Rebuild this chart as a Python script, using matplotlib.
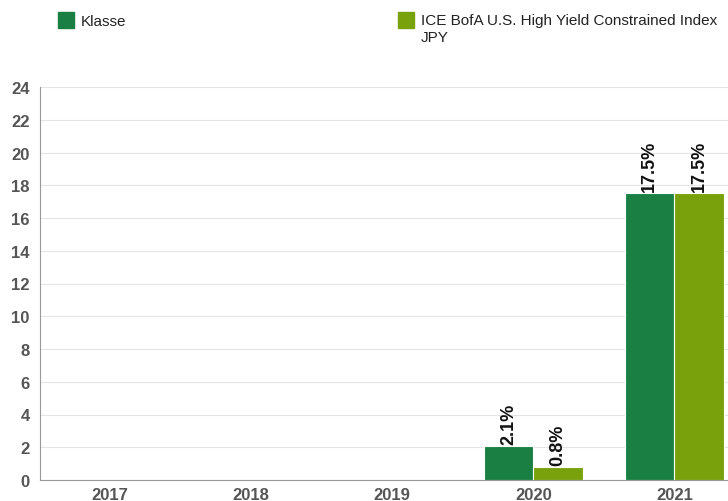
import matplotlib.pyplot as plt
import numpy as np

plt.rcParams['font.family'] = ['Liberation Sans', 'DejaVu Sans']

years = ['2017', '2018', '2019', '2020', '2021']
klasse = [np.nan, np.nan, np.nan, 2.1, 17.5]
index_vals = [np.nan, np.nan, np.nan, 0.8, 17.5]
series_names = ['Klasse', 'ICE BofA U.S. High Yield Constrained Index\nJPY']
colors = ['#1a7f42', '#79a10c']
y_ticks = list(range(0, 25, 2))

fig = plt.figure(figsize=(7.28, 5.02), dpi=100)
ax = fig.add_axes([39.5 / 728, 21 / 502, 705.5 / 728, 393 / 502])

x = np.arange(len(years))
w = 0.35
for vals, col, off in [(klasse, colors[0], -w / 2), (index_vals, colors[1], w / 2)]:
    bars = ax.bar(x + off, vals, width=w, color=col, edgecolor='white', linewidth=0.8, zorder=3)
    for b, v in zip(bars, vals):
        if np.isnan(v):
            continue
        ax.text(b.get_x() + b.get_width() / 2, v + 0.12, f'{v:.1f}%', rotation=90,
                ha='center', va='bottom', fontsize=13, fontweight='bold', color='#111111')

ax.set_xlim(-0.5, len(years) - 0.5)
ax.set_ylim(0, 24)
ax.set_yticks(y_ticks)
ax.set_xticks(x)
ax.set_xticklabels(years)
ax.grid(axis='y', color='#e4e4e4', linewidth=0.8, zorder=0)
ax.tick_params(axis='both', length=0, labelsize=12, labelcolor='#555555')
ax.tick_params(axis='x', pad=5)
ax.tick_params(axis='y', pad=7)
for lab in ax.get_xticklabels() + ax.get_yticklabels():
    lab.set_fontweight('bold')
for s in ['top', 'right']:
    ax.spines[s].set_visible(False)
ax.spines['left'].set_color('#999999')
ax.spines['bottom'].set_color('#999999')

# legend on top
fig.patches.append(plt.Rectangle((58 / 728, 1 - 29 / 502), 16 / 728, 16 / 502,
                                 transform=fig.transFigure, color=colors[0]))
fig.text(81 / 728, 1 - 21.5 / 502, series_names[0], fontsize=11, va='center', color='#222222')
fig.patches.append(plt.Rectangle((398 / 728, 1 - 29 / 502), 16 / 728, 16 / 502,
                                 transform=fig.transFigure, color=colors[1]))
fig.text(421 / 728, 1 - 14 / 502, series_names[1], fontsize=11, va='top', color='#222222',
         linespacing=1.3)

fig.savefig('out.png', dpi=100)
